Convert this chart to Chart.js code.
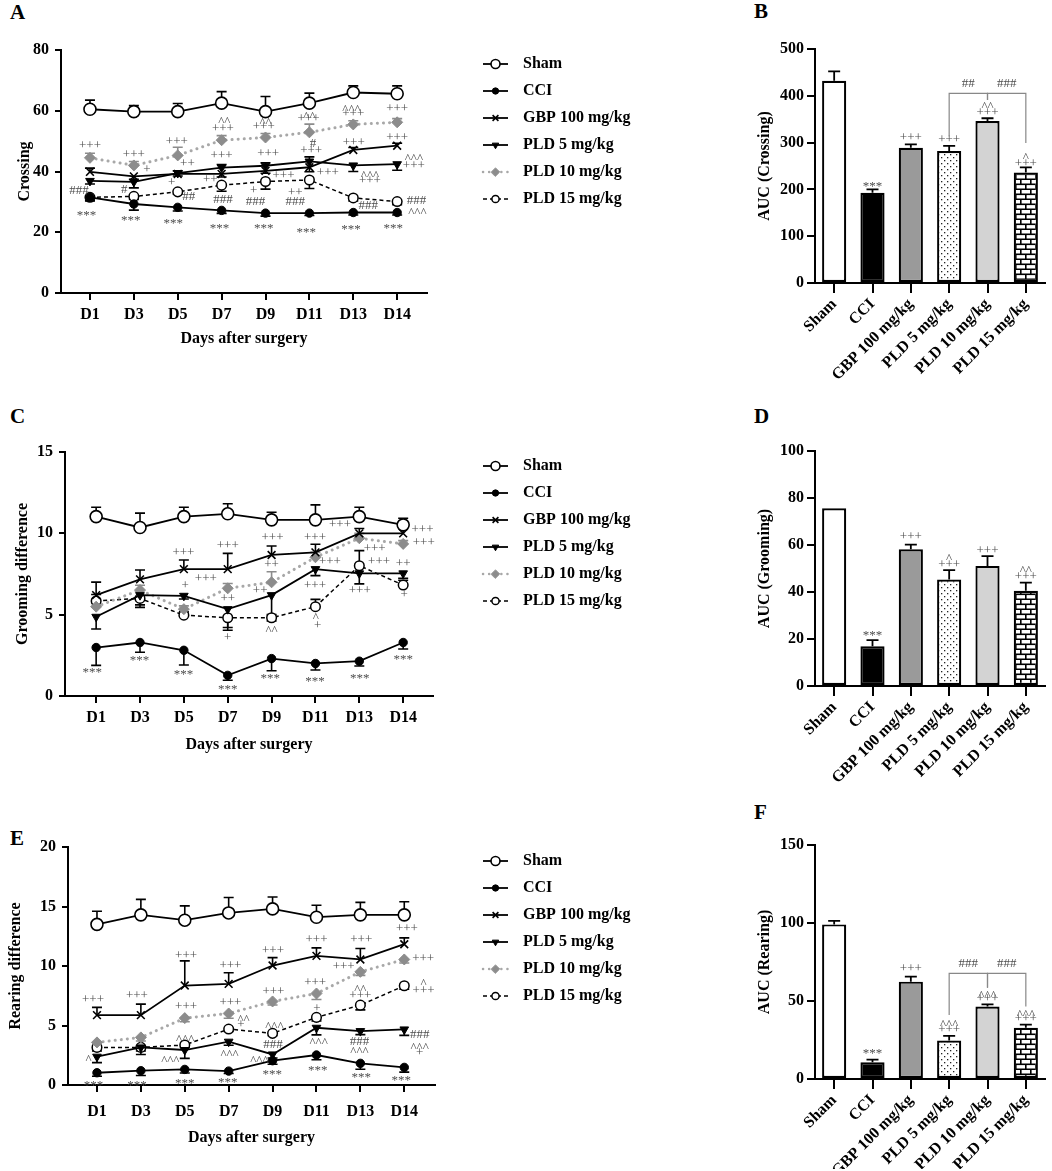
<!DOCTYPE html>
<html>
<head>
<meta charset="utf-8">
<script src="https://cdn.jsdelivr.net/npm/chart.js@4.4.0/dist/chart.umd.min.js"></script>
<style>
  body { margin: 0; background: #fff; }
  #page { position: relative; width: 1052px; height: 1171px; overflow: hidden; }
  .box { position: absolute; }
  .tag { position: absolute; font: bold 21px/22px 'Liberation Serif', 'Times New Roman', serif; }
</style>
</head>
<body>
<div id="page">
  <div class="tag" style="left:10px;top:1px">A</div>
  <div class="tag" style="left:754px;top:0px">B</div>
  <div class="tag" style="left:10px;top:405px">C</div>
  <div class="tag" style="left:754px;top:405px">D</div>
  <div class="tag" style="left:10px;top:827px">E</div>
  <div class="tag" style="left:754px;top:801px">F</div>

  <div class="box" style="left:0;top:0;width:660px;height:370px"><canvas id="chartA"></canvas></div>
  <div class="box" style="left:700px;top:0;width:352px;height:400px"><canvas id="chartB"></canvas></div>
  <div class="box" style="left:0;top:400px;width:660px;height:380px"><canvas id="chartC"></canvas></div>
  <div class="box" style="left:700px;top:400px;width:352px;height:400px"><canvas id="chartD"></canvas></div>
  <div class="box" style="left:0;top:800px;width:660px;height:371px"><canvas id="chartE"></canvas></div>
  <div class="box" style="left:700px;top:800px;width:352px;height:371px"><canvas id="chartF"></canvas></div>
</div>
<script>
const days = ['D1', 'D3', 'D5', 'D7', 'D9', 'D11', 'D13', 'D14'];
const groups = ['Sham', 'CCI', 'GBP 100 mg/kg', 'PLD 5 mg/kg', 'PLD 10 mg/kg', 'PLD 15 mg/kg'];

// rows follow groups order; errors signed: + drawn up, - drawn down
const crossingMean = [
  [60.5, 59.7, 59.7, 62.5, 59.7, 62.5, 66.0, 65.6],
  [31.5, 29.3, 28.2, 27.2, 26.3, 26.3, 26.5, 26.5],
  [39.9, 38.4, 39.2, 39.2, 40.2, 41.4, 47.1, 48.5],
  [36.9, 36.6, 39.5, 41.3, 41.9, 43.3, 42.0, 42.4],
  [44.5, 42.0, 45.3, 50.3, 51.2, 52.9, 55.5, 56.2],
  [31.5, 31.8, 33.3, 35.5, 36.7, 37.2, 31.3, 30.1]
];
const crossingErr = [
  [3.0, 2.0, 2.7, 3.8, 5.0, 3.3, 2.2, 2.6],
  [-1.2, -2.0, -1.2, -1.0, -1.0, -0.8, -0.8, -0.8],
  [1.2, -1.0, 1.0, -1.0, -0.8, -1.5, 0.8, 0.8],
  [-1.0, -2.0, -1.0, 1.0, 1.0, 1.5, -2.0, -2.0],
  [1.5, 1.3, 2.7, 1.5, 1.3, 2.7, 1.2, 1.2],
  [-1.0, -1.0, -0.8, -2.0, -2.5, -2.8, -1.0, -1.0]
];
const crossingMarks = [
  [0, 48.4, '+++'], [-0.25, 33.8, '###'], [-0.08, 26.5, '***'],
  [1, 45.6, '+++'], [1.3, 40.5, '+'], [0.78, 34, '#'], [0.93, 24.7, '***'],
  [1.98, 50, '+++'], [2.22, 42.7, '++'], [1.86, 36.2, '+'], [2.25, 31.6, '##'], [1.9, 23.8, '***'],
  [3.06, 57.3, '^^'], [3.03, 54.1, '+++'], [3.0, 45.3, '+++'], [2.74, 37.3, '++'], [3.03, 30.7, '###'], [2.95, 22.1, '***'],
  [4.0, 57, '^^'], [3.96, 54.8, '+++'], [4.06, 46, '+++'], [4.41, 38.6, '+++'], [3.73, 33.6, '+'], [3.77, 30.1, '###'], [3.96, 22.2, '***'],
  [5.0, 59.2, '^^'], [4.98, 57.3, '+++'], [5.08, 49.3, '#'], [5.04, 46.9, '+++'], [5.42, 39.7, '+++'], [4.68, 33.1, '++'], [4.68, 30, '###'], [4.93, 21, '***'],
  [5.96, 61.4, '^^^'], [6.0, 59.2, '+++'], [6.01, 49.5, '+++'], [6.38, 39.7, '^^^'], [6.38, 36.9, '+++'], [6.34, 28.8, '###'], [5.95, 21.9, '***'],
  [7.0, 60.8, '+++'], [7.0, 51.3, '+++'], [7.38, 45.2, '^^^'], [7.38, 42, '+++'], [7.44, 30.4, '###'], [7.46, 27.4, '^^^'], [6.91, 22.1, '***']
];

const groomingMean = [
  [11.03, 10.36, 11.03, 11.2, 10.83, 10.83, 11.03, 10.52],
  [2.98, 3.29, 2.81, 1.27, 2.3, 2.0, 2.14, 3.29],
  [6.2, 7.17, 7.8, 7.8, 8.67, 8.83, 10.0, 10.0],
  [4.87, 6.2, 6.16, 5.34, 6.2, 7.8, 7.54, 7.54],
  [5.49, 6.51, 5.34, 6.62, 6.99, 8.53, 9.7, 9.35],
  [5.84, 6.0, 4.97, 4.81, 4.81, 5.49, 8.01, 6.82]
];
const groomingErr = [
  [0.57, 0.88, 0.57, 0.62, 0.47, 0.92, 0.57, 0.41],
  [-1.1, -0.6, -0.9, -0.3, -0.75, -0.4, -0.3, -0.4],
  [0.8, 0.58, 0.56, 0.97, 0.55, 0.5, 0.3, 0.3],
  [-0.75, -0.6, -0.2, -1.3, -1.2, -0.4, -0.65, -0.3],
  [0.2, 0.3, 0.2, 0.3, 0.65, 0.3, 0.3, 0.2],
  [0.4, -0.55, 0.2, -0.6, -0.2, 0.45, 0.93, 0.3]
];
const groomingMarks = [
  [-0.09, 1.62, '***'], [0.99, 2.34, '***'],
  [1.99, 8.83, '+++'], [2.03, 6.78, '+'], [1.99, 1.48, '***'],
  [3.0, 9.25, '+++'], [2.5, 7.19, '+++'], [3.0, 5.96, '++'], [3.0, 3.6, '+'], [3.0, 0.6, '***'],
  [4.02, 9.74, '+++'], [4.0, 8.05, '++'], [3.74, 6.47, '++'], [4.0, 4.19, '^^'], [3.97, 1.23, '***'],
  [4.99, 9.76, '+++'], [5.33, 8.26, '+++'], [4.99, 6.78, '+++'], [5.01, 5.01, '^'], [5.05, 4.31, '+'], [4.99, 1.07, '***'],
  [5.56, 10.56, '+++'], [6.35, 9.08, '+++'], [6.45, 8.26, '+++'], [6.01, 6.51, '+++'], [6.01, 1.23, '***'],
  [7.44, 10.25, '+++'], [7.47, 9.45, '+++'], [7.0, 8.12, '++'], [7.02, 6.25, '+'], [7.0, 2.4, '***']
];

const rearingMean = [
  [13.5, 14.3, 13.85, 14.46, 14.8, 14.1, 14.3, 14.3],
  [1.03, 1.2, 1.31, 1.17, 2.04, 2.52, 1.82, 1.48],
  [5.87, 5.87, 8.36, 8.5, 10.04, 10.85, 10.55, 11.83],
  [2.38, 3.16, 2.94, 3.64, 2.57, 4.81, 4.53, 4.67],
  [3.58, 4.0, 5.62, 6.01, 7.02, 7.69, 9.51, 10.55],
  [3.16, 3.16, 3.36, 4.7, 4.34, 5.68, 6.71, 8.34]
];
const rearingErr = [
  [1.1, 1.3, 1.2, 1.3, 1.0, 1.0, 1.05, 1.1],
  [-0.3, -0.4, -0.3, -0.2, -0.3, -0.4, -0.5, -0.4],
  [0.65, 0.93, 2.07, 0.93, 0.66, 0.67, 0.92, 0.53],
  [-0.5, -0.6, -0.7, -0.3, -0.3, -0.6, -0.3, -0.5],
  [-0.3, -0.3, -0.3, -0.4, -0.3, -0.5, -0.3, -0.3],
  [-0.3, -0.3, -0.2, -0.2, -0.2, -0.3, -0.4, -0.3]
];
const rearingMarks = [
  [-0.09, 7.22, '+++'], [-0.19, 2.38, '^'], [-0.08, 0.22, '***'],
  [0.91, 7.5, '+++'], [0.91, 0.22, '***'],
  [2.03, 10.85, '+++'], [2.03, 6.63, '+++'], [2.01, 4.11, '^^^'], [1.67, 2.32, '^^^'], [2.0, 0.36, '***'],
  [3.04, 10.0, '+++'], [3.04, 6.94, '+++'], [3.34, 5.73, '^^'], [3.28, 5.09, '+'], [3.02, 2.8, '^^^'], [2.98, 0.48, '***'],
  [4.01, 11.27, '+++'], [4.02, 7.89, '+++'], [4.04, 5.17, '^^^'], [4.01, 3.36, '###'], [3.7, 2.32, '^^^'], [3.99, 1.12, '***'],
  [5.0, 12.25, '+++'], [4.97, 8.62, '+++'], [5.01, 6.43, '+'], [5.05, 3.83, '^^^'], [5.03, 1.48, '***'],
  [6.02, 12.25, '+++'], [5.62, 9.99, '+++'], [6.0, 8.25, '^^'], [6.0, 7.5, '+++'], [5.98, 3.64, '###'], [5.98, 3.08, '^^^'], [6.02, 0.84, '***'],
  [7.06, 13.15, '+++'], [7.43, 10.63, '+++'], [7.44, 8.76, '^'], [7.44, 7.97, '+++'], [7.35, 4.2, '###'], [7.35, 3.36, '^^^'], [7.35, 2.71, '+'], [6.93, 0.62, '***']
];

const aucCrossing = [432, 193, 289, 282, 346, 236];
const aucCrossingErr = [20, 7, 7, 11, 6, 11];
const aucCrossingMarks = [[1, 213, '***'], [2, 311, '+++'], [3, 306, '+++'], [4, 383, '^^'], [4, 364, '+++'], [5, 274, '^'], [5, 256, '+++']];
const aucCrossingBrackets = [[3, 4, 405, 313, 391, '##'], [4, 5, 405, 391, 299, '###']];

const aucGrooming = [75.6, 16.9, 58.2, 45.3, 51.1, 40.5];
const aucGroomingErr = [0, 2.6, 2, 4, 4.2, 3.5];
const aucGroomingMarks = [[1, 22.7, '***'], [2, 63.5, '+++'], [3, 55.7, '^'], [3, 51.7, '+++'], [4, 57.8, '+++'], [5, 50.4, '^^'], [5, 46.7, '+++']];

const aucRearing = [99.1, 10.7, 62.4, 24.6, 46.4, 32.9];
const aucRearingErr = [2.2, 1.7, 3.2, 3, 1.5, 2];
const aucRearingMarks = [[1, 18.2, '***'], [2, 70.5, '+++'], [3, 36.8, '^^^'], [3, 31.4, '+++'], [4, 55.3, '^^^'], [4, 51.3, '+++'], [5, 43.2, '^^^'], [5, 38.9, '+++']];
const aucRearingBrackets = [[3, 4, 67.7, 41, 58.5, '###'], [4, 5, 67.7, 58.5, 46.4, '###']];

const FONT = "'Liberation Serif', 'Times New Roman', serif";
Chart.defaults.font.family = FONT;
Chart.defaults.font.weight = 'bold';
Chart.defaults.font.size = 16;
Chart.defaults.color = '#000';

const seriesStyle = [
  { borderColor: '#000', borderWidth: 1.8, pointStyle: 'circle', pointRadius: 6, pointBackgroundColor: '#fff', pointBorderColor: '#000', pointBorderWidth: 1.6 },
  { borderColor: '#000', borderWidth: 1.8, pointStyle: 'circle', pointRadius: 4.2, pointBackgroundColor: '#000', pointBorderColor: '#000', pointBorderWidth: 1 },
  { borderColor: '#000', borderWidth: 1.8, pointStyle: 'crossRot', pointRadius: 5.5, pointBackgroundColor: '#000', pointBorderColor: '#000', pointBorderWidth: 1.6 },
  { borderColor: '#000', borderWidth: 1.8, pointStyle: 'triangle', pointRotation: 180, pointRadius: 5, pointBackgroundColor: '#000', pointBorderColor: '#000', pointBorderWidth: 1 },
  { borderColor: '#a8a8a8', borderWidth: 3, borderDash: [0.1, 6], borderCapStyle: 'round', pointStyle: 'rectRot', pointRadius: 5.5, pointBackgroundColor: '#8c8c8c', pointBorderColor: '#8c8c8c', pointBorderWidth: 1, errColor: '#8c8c8c' },
  { borderColor: '#000', borderWidth: 1.5, borderDash: [4, 3], pointStyle: 'circle', pointRadius: 4.8, pointBackgroundColor: '#fff', pointBorderColor: '#000', pointBorderWidth: 1.5 }
];

function drawErrors(chart, opts) {
  const ctx = chart.ctx, ys = chart.scales.y;
  chart.data.datasets.forEach((ds, di) => {
    if (!ds.errors) return;
    const meta = chart.getDatasetMeta(di);
    ctx.save();
    ctx.strokeStyle = ds.errColor || '#000';
    ctx.lineWidth = opts.width;
    meta.data.forEach((el, i) => {
      const e = ds.errors[i];
      if (!e) return;
      const d = ds.data[i];
      const v = typeof d === 'object' ? d.y : d;
      const x = el.x, y0 = ys.getPixelForValue(v), y1 = ys.getPixelForValue(v + e);
      ctx.beginPath();
      ctx.moveTo(x, y0); ctx.lineTo(x, y1);
      ctx.moveTo(x - opts.cap, y1); ctx.lineTo(x + opts.cap, y1);
      ctx.stroke();
    });
    ctx.restore();
  });
}

const errorBars = {
  id: 'errorBars',
  beforeDatasetsDraw(chart, args, opts) { if (!opts.after) drawErrors(chart, opts); },
  afterDatasetsDraw(chart, args, opts) { if (opts.after) drawErrors(chart, opts); }
};

const marks = {
  id: 'marks',
  afterDatasetsDraw(chart, args, opts) {
    if (!opts.items) return;
    const ctx = chart.ctx, xs = chart.scales.x, ys = chart.scales.y;
    ctx.save();
    ctx.font = '13px ' + FONT;
    ctx.fillStyle = '#4d4d4d';
    ctx.textAlign = 'center';
    ctx.textBaseline = 'middle';
    opts.items.forEach(([x, y, t]) => {
      const shift = /[\^*]/.test(t) ? 3 : 0;
      ctx.fillText(t, xs.getPixelForValue(x), ys.getPixelForValue(y) + shift);
    });
    ctx.restore();
  }
};

const brackets = {
  id: 'brackets',
  afterDatasetsDraw(chart, args, opts) {
    if (!opts.items) return;
    const ctx = chart.ctx, xs = chart.scales.x, ys = chart.scales.y;
    ctx.save();
    ctx.strokeStyle = '#888';
    ctx.lineWidth = 1.2;
    ctx.font = '13px ' + FONT;
    ctx.fillStyle = '#4d4d4d';
    ctx.textAlign = 'center';
    ctx.textBaseline = 'bottom';
    opts.items.forEach(([a, b, y, la, lb, t]) => {
      const xa = xs.getPixelForValue(a), xb = xs.getPixelForValue(b), py = ys.getPixelForValue(y);
      ctx.beginPath();
      ctx.moveTo(xa, ys.getPixelForValue(la));
      ctx.lineTo(xa, py); ctx.lineTo(xb, py);
      ctx.lineTo(xb, ys.getPixelForValue(lb));
      ctx.stroke();
      ctx.fillText(t, (xa + xb) / 2, py - 3);
    });
    ctx.restore();
  }
};

const sideLegend = {
  id: 'sideLegend',
  afterDraw(chart, args, opts) {
    if (opts.x === undefined) return;
    const ctx = chart.ctx;
    chart.data.datasets.forEach((ds, i) => {
      const y = opts.y + i * opts.gap;
      ctx.save();
      ctx.strokeStyle = ds.borderColor;
      ctx.lineWidth = Math.min(ds.borderWidth, 2.5);
      ctx.setLineDash(ds.borderDash || []);
      ctx.lineCap = ds.borderCapStyle || 'butt';
      ctx.beginPath();
      ctx.moveTo(opts.x, y); ctx.lineTo(opts.x + 25, y);
      ctx.stroke();
      ctx.setLineDash([]);
      ctx.fillStyle = ds.pointBackgroundColor;
      ctx.strokeStyle = ds.pointBorderColor;
      ctx.lineWidth = ds.pointBorderWidth;
      Chart.helpers.drawPoint(ctx, {
        pointStyle: ds.pointStyle, rotation: ds.pointRotation || 0,
        radius: ds.pointRadius * 0.75, borderWidth: ds.pointBorderWidth
      }, opts.x + 12.5, y);
      ctx.fillStyle = '#000';
      ctx.font = 'bold 16px ' + FONT;
      ctx.textAlign = 'left';
      ctx.textBaseline = 'middle';
      ctx.fillText(ds.label, opts.x + 40, y);
      ctx.restore();
    });
  }
};

const axisGrid = tl => ({ drawOnChartArea: false, color: '#000', lineWidth: 2, tickLength: tl });
const axisBorder = { color: '#000', width: 2 };

function lineChart(id, means, errs, cfg) {
  const w = 660;
  return new Chart(document.getElementById(id), {
    type: 'line',
    data: {
      datasets: means.map((m, s) => Object.assign({
        label: groups[s],
        data: m.map((v, i) => ({ x: i, y: v })),
        errors: errs[s],
        fill: false,
        tension: 0
      }, seriesStyle[s]))
    },
    options: {
      animation: false,
      responsive: true,
      maintainAspectRatio: false,
      layout: { padding: { left: 0, top: cfg.top, right: w - cfg.right, bottom: cfg.h - cfg.bottom - cfg.xh } },
      plugins: {
        legend: { display: false },
        tooltip: { enabled: false },
        errorBars: { cap: 5, width: 1.6 },
        marks: { items: cfg.marks },
        sideLegend: { x: 483, y: cfg.legendY, gap: 27 }
      },
      scales: {
        x: {
          type: 'linear', min: cfg.xmin, max: cfg.xmax,
          afterBuildTicks: s => { s.ticks = days.map((d, i) => ({ value: i })); },
          afterFit: s => { s.height = cfg.xh; },
          ticks: { callback: v => days[v], padding: cfg.xpad },
          grid: axisGrid(7),
          border: axisBorder,
          title: { display: true, text: 'Days after surgery', padding: { top: 0, bottom: 0 } }
        },
        y: {
          min: 0, max: cfg.ymax,
          afterFit: s => { s.width = cfg.left; },
          ticks: { stepSize: cfg.step, padding: 6 },
          grid: axisGrid(6),
          border: axisBorder,
          title: { display: true, text: cfg.ytitle, padding: { top: cfg.tpad, bottom: 0 } }
        }
      }
    },
    plugins: [errorBars, marks, sideLegend]
  });
}

function makeTile(w, h, paint) {
  const c = document.createElement('canvas');
  c.width = w; c.height = h;
  paint(c.getContext('2d'));
  return c;
}
const dotTile = makeTile(6, 6, g => {
  g.fillStyle = '#fff'; g.fillRect(0, 0, 6, 6);
  g.fillStyle = '#222'; g.fillRect(1, 1, 1.3, 1.3); g.fillRect(4, 4, 1.3, 1.3);
});
const brickTile = makeTile(10, 10, g => {
  g.fillStyle = '#fff'; g.fillRect(0, 0, 10, 10);
  g.fillStyle = '#000';
  g.fillRect(0, 3.5, 10, 1.6); g.fillRect(0, 8.5, 10, 1.6);
  g.fillRect(0, 0, 1.6, 4); g.fillRect(5, 5, 1.6, 4);
});

function barChart(id, values, errs, cfg) {
  const el = document.getElementById(id);
  const ctx = el.getContext('2d');
  const fills = ['#fff', '#000', '#9a9a9a', ctx.createPattern(dotTile, 'repeat'), '#d3d3d3', ctx.createPattern(brickTile, 'repeat')];
  return new Chart(el, {
    type: 'bar',
    data: {
      labels: groups,
      datasets: [{
        data: values, errors: errs,
        backgroundColor: fills, borderColor: '#000', borderWidth: 2.2, borderSkipped: false,
        barPercentage: 0.63, categoryPercentage: 1
      }]
    },
    options: {
      animation: false,
      responsive: true,
      maintainAspectRatio: false,
      layout: { padding: { left: 0, top: cfg.top, right: 7, bottom: cfg.h - cfg.bottom - cfg.xh } },
      plugins: {
        legend: { display: false },
        tooltip: { enabled: false },
        errorBars: { cap: 6, width: 1.8, after: true },
        marks: { items: cfg.marks },
        brackets: { items: cfg.brackets }
      },
      scales: {
        x: {
          afterFit: s => { s.height = cfg.xh; },
          ticks: { minRotation: 45, maxRotation: 45, autoSkip: false, padding: 2 },
          grid: Object.assign(axisGrid(10), { offset: false }),
          border: axisBorder
        },
        y: {
          min: 0, max: cfg.ymax,
          afterFit: s => { s.width = 115; },
          ticks: { stepSize: cfg.step, padding: 3 },
          grid: axisGrid(8),
          border: axisBorder,
          title: { display: true, text: cfg.ytitle, padding: { top: 55, bottom: 0 } }
        }
      }
    },
    plugins: [errorBars, marks, brackets]
  });
}

lineChart('chartA', crossingMean, crossingErr, {
  h: 370, top: 50, bottom: 293, left: 61, right: 427, xh: 55, xpad: 5,
  xmin: -0.66, xmax: 7.68, ymax: 80, step: 20, ytitle: 'Crossing', tpad: 15,
  legendY: 64, marks: crossingMarks
});
lineChart('chartC', groomingMean, groomingErr, {
  h: 380, top: 52, bottom: 296, left: 65, right: 433, xh: 58, xpad: 5,
  xmin: -0.71, xmax: 7.68, ymax: 15, step: 5, ytitle: 'Grooming difference', tpad: 13,
  legendY: 66, marks: groomingMarks
});
lineChart('chartE', rearingMean, rearingErr, {
  h: 371, top: 47, bottom: 285, left: 68, right: 435, xh: 62, xpad: 10,
  xmin: -0.66, xmax: 7.7, ymax: 20, step: 5, ytitle: 'Rearing difference', tpad: 6,
  legendY: 61, marks: rearingMarks
});

barChart('chartB', aucCrossing, aucCrossingErr, {
  h: 400, top: 49, bottom: 283, xh: 110, ymax: 500, step: 100, ytitle: 'AUC (Crossing)',
  marks: aucCrossingMarks, brackets: aucCrossingBrackets
});
barChart('chartD', aucGrooming, aucGroomingErr, {
  h: 400, top: 51, bottom: 286, xh: 110, ymax: 100, step: 20, ytitle: 'AUC (Grooming)',
  marks: aucGroomingMarks
});
barChart('chartF', aucRearing, aucRearingErr, {
  h: 371, top: 45, bottom: 279, xh: 90, ymax: 150, step: 50, ytitle: 'AUC (Rearing)',
  marks: aucRearingMarks, brackets: aucRearingBrackets
});
</script>
</body>
</html>
